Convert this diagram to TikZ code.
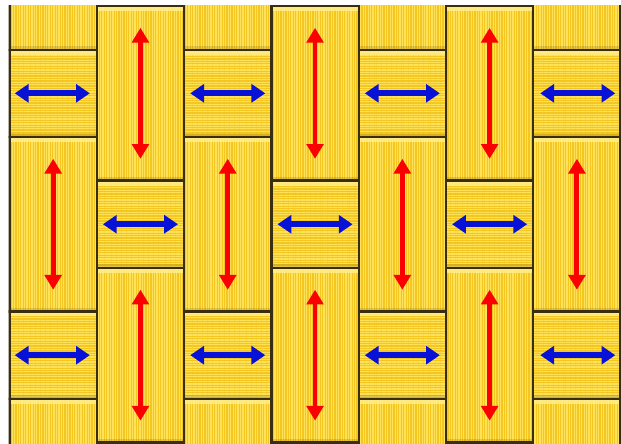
\documentclass[tikz,border=0pt]{standalone}
\usetikzlibrary{arrows.meta,patterns.meta}
\definecolor{gold}{RGB}{244,198,34}
\definecolor{goldlight}{RGB}{255,226,88}
\definecolor{goldedge}{RGB}{58,46,14}
\definecolor{goldhi}{RGB}{255,238,140}
\definecolor{arrred}{RGB}{250,0,0}
\definecolor{arrblue}{RGB}{8,18,215}
\begin{document}
\begin{tikzpicture}[
    tile/.style={preaction={fill=gold},
      pattern={Lines[angle=#1,distance=0.8pt,line width=0.4pt]},
      pattern color=goldlight, draw=goldedge, line width=0.75pt,
      path picture={
        \fill[goldhi,opacity=0.85] (path picture bounding box.north west)
          rectangle ([yshift=-1.6pt]path picture bounding box.north east);
        \fill[goldedge,opacity=0.15] (path picture bounding box.south west)
          rectangle ([yshift=1.2pt]path picture bounding box.south east);
      }},
    vtile/.style={tile=90},
    htile/.style={tile=0},
    redarrow/.style={draw=arrred, line width=1.6pt, <->,
      >={Triangle[width=5.4pt,length=4.8pt]}},
    bluearrow/.style={draw=arrblue, line width=1.9pt, <->,
      >={Triangle[width=5.8pt,length=4.5pt]}}]
    \useasboundingbox (-0.109,-0.006) rectangle (7.005,5.069);
    \fill[white] (-0.109,-0.006) rectangle (7.005,5.069);
    \begin{scope}
      \clip (-0.01,-0.02) rectangle (7.01,5.01);
      % column 0
      \draw[vtile] (0,4.5) rectangle (1,6.5);
      \draw[htile] (0,3.5) rectangle (1,4.5);
      \draw[vtile] (0,1.5) rectangle (1,3.5);
      \draw[htile] (0,0.5) rectangle (1,1.5);
      \draw[vtile] (0,-1.5) rectangle (1,0.5);
      % column 1
      \draw[vtile] (1,3) rectangle (2,5);
      \draw[htile] (1,2) rectangle (2,3);
      \draw[vtile] (1,0) rectangle (2,2);
      % column 2
      \draw[vtile] (2,4.5) rectangle (3,6.5);
      \draw[htile] (2,3.5) rectangle (3,4.5);
      \draw[vtile] (2,1.5) rectangle (3,3.5);
      \draw[htile] (2,0.5) rectangle (3,1.5);
      \draw[vtile] (2,-1.5) rectangle (3,0.5);
      % column 3
      \draw[vtile] (3,3) rectangle (4,5);
      \draw[htile] (3,2) rectangle (4,3);
      \draw[vtile] (3,0) rectangle (4,2);
      % column 4
      \draw[vtile] (4,4.5) rectangle (5,6.5);
      \draw[htile] (4,3.5) rectangle (5,4.5);
      \draw[vtile] (4,1.5) rectangle (5,3.5);
      \draw[htile] (4,0.5) rectangle (5,1.5);
      \draw[vtile] (4,-1.5) rectangle (5,0.5);
      % column 5
      \draw[vtile] (5,3) rectangle (6,5);
      \draw[htile] (5,2) rectangle (6,3);
      \draw[vtile] (5,0) rectangle (6,2);
      % column 6
      \draw[vtile] (6,4.5) rectangle (7,6.5);
      \draw[htile] (6,3.5) rectangle (7,4.5);
      \draw[vtile] (6,1.5) rectangle (7,3.5);
      \draw[htile] (6,0.5) rectangle (7,1.5);
      \draw[vtile] (6,-1.5) rectangle (7,0.5);
    \end{scope}
    % red arrows, standing tiles
    \draw[redarrow] (1.5,3.25)--(1.5,4.75);
    \draw[redarrow] (3.5,3.25)--(3.5,4.75);
    \draw[redarrow] (5.5,3.25)--(5.5,4.75);
    \draw[redarrow] (0.5,1.75)--(0.5,3.25);
    \draw[redarrow] (2.5,1.75)--(2.5,3.25);
    \draw[redarrow] (4.5,1.75)--(4.5,3.25);
    \draw[redarrow] (6.5,1.75)--(6.5,3.25);
    \draw[redarrow] (1.5,0.25)--(1.5,1.75);
    \draw[redarrow] (3.5,0.25)--(3.5,1.75);
    \draw[redarrow] (5.5,0.25)--(5.5,1.75);
    % blue arrows, lying tiles
    \draw[bluearrow] (0.06,4)--(0.92,4);
    \draw[bluearrow] (2.07,4)--(2.93,4);
    \draw[bluearrow] (4.07,4)--(4.93,4);
    \draw[bluearrow] (6.08,4)--(6.94,4);
    \draw[bluearrow] (1.07,2.5)--(1.93,2.5);
    \draw[bluearrow] (3.07,2.5)--(3.93,2.5);
    \draw[bluearrow] (5.07,2.5)--(5.93,2.5);
    \draw[bluearrow] (0.06,1)--(0.92,1);
    \draw[bluearrow] (2.07,1)--(2.93,1);
    \draw[bluearrow] (4.07,1)--(4.93,1);
    \draw[bluearrow] (6.08,1)--(6.94,1);
  \end{tikzpicture}
\end{document}
